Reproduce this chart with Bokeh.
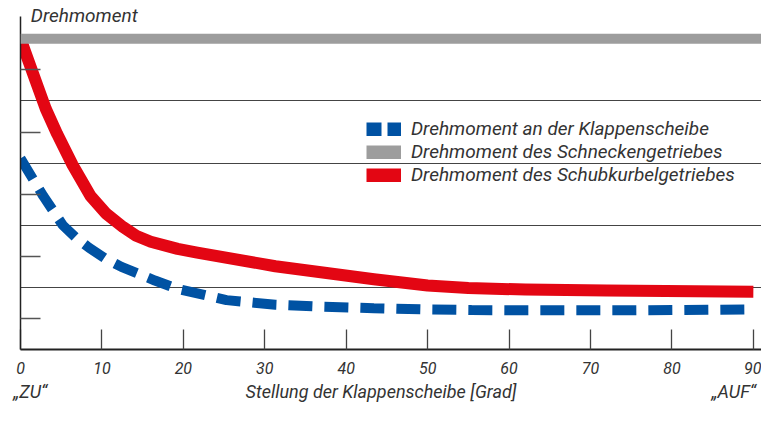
from bokeh.plotting import figure
from bokeh.models import (ColumnDataSource, Span, Legend, LegendItem,
                          FixedTicker, Range1d, LinearAxis)
from bokeh.embed import file_html
from bokeh.resources import INLINE

# ---- data ----
# Stellung der Klappenscheibe [Grad]
red_x = [0, 2.2, 3.1, 4.5, 6.4, 8.6, 10.5, 12.6, 14.2, 16, 19.3, 21.7, 31.3, 43.4, 50, 55, 62, 72, 90]
red_y = [10.0, 8.4, 7.75, 6.94, 5.94, 4.94, 4.38, 3.94, 3.66, 3.47, 3.24, 3.12, 2.68, 2.26, 2.06, 1.98, 1.93, 1.9, 1.86]

blue_x = [0, 2.8, 5.2, 6.8, 8.4, 10.4, 12.4, 16.5, 19.3, 25.3, 31.3, 37.3, 43.4, 49.4, 55.4, 62, 75, 90]
blue_y = [6.15, 4.94, 4.0, 3.6, 3.28, 2.93, 2.66, 2.22, 1.95, 1.59, 1.44, 1.375, 1.33, 1.29, 1.27, 1.26, 1.26, 1.29]

schnecken_level = 10.0

x_ticks = [0, 10, 20, 30, 40, 50, 60, 70, 80, 90]
y_minor_ticks = [1, 3, 5, 7, 9]
y_grid_ticks = [2, 4, 6, 8, 10]

labels = ["Drehmoment an der Klappenscheibe",
          "Drehmoment des Schneckengetriebes",
          "Drehmoment des Schubkurbelgetriebes"]
y_title = "Drehmoment"
x_title = "Stellung der Klappenscheibe [Grad]"
x_end_labels = ["\u201eZU\u201c", "\u201eAUF\u201c"]

BLUE = "#0052A3"
RED = "#E30613"
GRAY = "#9D9D9D"
TXT = "#333333"
FONT = "Roboto"
NAN = float("nan")

p = figure(width=761, height=405, x_range=Range1d(0, 91), y_range=Range1d(0, 10.72),
           output_backend="svg", toolbar_location=None,
           min_border_left=20, min_border_right=0, min_border_top=14, min_border_bottom=56)
p.outline_line_color = None
p.background_fill_color = "white"
p.border_fill_color = "white"

# grid
p.xgrid.visible = False
p.ygrid.ticker = FixedTicker(ticks=y_grid_ticks)
p.ygrid.grid_line_color = "#444444"
p.ygrid.grid_line_width = 1.2

# axes
p.xaxis.ticker = FixedTicker(ticks=x_ticks)
p.xaxis.major_tick_in = 20
p.xaxis.major_tick_out = 0
p.xaxis.minor_tick_line_color = None
p.xaxis.major_tick_line_color = "#444444"
p.xaxis.major_tick_line_width = 1.3
p.xaxis.axis_line_color = "#222222"
p.xaxis.axis_line_width = 2
p.xaxis.major_label_text_font = FONT
p.xaxis.major_label_text_font_style = "italic"
p.xaxis.major_label_text_font_size = "16px"
p.xaxis.major_label_text_color = TXT
p.xaxis.major_label_standoff = 12

p.yaxis.ticker = FixedTicker(ticks=y_minor_ticks)
p.yaxis.major_tick_in = 20
p.yaxis.major_tick_out = 0
p.yaxis.minor_tick_line_color = None
p.yaxis.major_tick_line_color = "#555555"
p.yaxis.major_tick_line_width = 1.3
p.yaxis.axis_line_color = "#222222"
p.yaxis.axis_line_width = 1.5
p.yaxis.major_label_overrides = {t: "" for t in y_minor_ticks}
p.yaxis.major_label_standoff = 0


def text_axis(positions, texts, standoff, size):
    ax = LinearAxis(ticker=FixedTicker(ticks=positions),
                    major_label_overrides={pos: t for pos, t in zip(positions, texts)})
    ax.axis_line_color = None
    ax.major_tick_line_color = None
    ax.minor_tick_line_color = None
    ax.major_tick_in = 0
    ax.major_tick_out = 0
    ax.major_label_standoff = standoff
    ax.major_label_text_font = FONT
    ax.major_label_text_font_style = "italic"
    ax.major_label_text_font_size = size
    ax.major_label_text_color = TXT
    return ax


# bottom texts: „ZU“, axis title, „AUF“
p.add_layout(text_axis([1.2, 44.27, 87.6], [x_end_labels[0], x_title, x_end_labels[1]], 4, "18px"), "below")
# quantity name above the y axis
p.add_layout(text_axis([7.83], [y_title], -10, "19px"), "above")

# series
red_src = ColumnDataSource(data=dict(x=red_x, y=red_y))
blue_src = ColumnDataSource(data=dict(x=blue_x, y=blue_y))
p.line("x", "y", source=red_src, line_color=RED, line_width=12, line_join="round")
p.line("x", "y", source=blue_src, line_color=BLUE, line_width=10, line_dash="24 12")
p.add_layout(Span(location=schnecken_level, dimension="width", line_color=GRAY, line_width=10))

# legend swatches (renderers that draw nothing in the plot)
swatch = ColumnDataSource(data=dict(x=[NAN], y=[NAN]))
lb = p.line("x", "y", source=swatch, line_color=BLUE, line_width=14, line_dash="15 6")
lg = p.line("x", "y", source=swatch, line_color=GRAY, line_width=14)
lr = p.line("x", "y", source=swatch, line_color=RED, line_width=14)
legend = Legend(items=[LegendItem(label=labels[0], renderers=[lb]),
                       LegendItem(label=labels[1], renderers=[lg]),
                       LegendItem(label=labels[2], renderers=[lr])],
                location=(346, 163), orientation="vertical",
                glyph_width=35, glyph_height=14, label_height=14, spacing=0,
                padding=0, margin=0, label_standoff=10,
                label_text_font=FONT, label_text_font_style="italic",
                label_text_font_size="19px", label_text_color=TXT,
                background_fill_alpha=0, border_line_alpha=0)
p.add_layout(legend)

open("out.html", "w").write(file_html(p, INLINE))
